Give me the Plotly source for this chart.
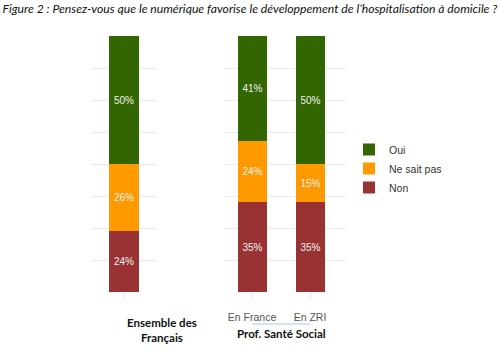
import plotly.graph_objects as go

title = "Figure 2 : Pensez-vous que le numérique favorise le développement de l’hospitalisation à domicile ?"
left_cat = ["Ensemble des Français"]
right_cat = ["En France", "En ZRI"]
series = ["Non", "Ne sait pas", "Oui"]
left_vals = {"Non": [24], "Ne sait pas": [26], "Oui": [50]}
right_vals = {"Non": [35, 35], "Ne sait pas": [24, 15], "Oui": [41, 50]}
colors = {"Oui": "#336600", "Ne sait pas": "#FF9900", "Non": "#993333"}
group_left = "Ensemble des<br>Français"
group_right = "Prof. Santé Social"

W, H = 500, 352
fig = go.Figure()
for s in series:
    fig.add_trace(go.Bar(x=left_cat, y=left_vals[s], name=s, marker_color=colors[s],
                         marker_line_width=0, width=0.44, xaxis="x", yaxis="y",
                         texttemplate="%{y}%", textposition="inside", insidetextanchor="middle",
                         textfont=dict(color="#f0f0f0", size=10, family="Arial"),
                         legendgroup=s, showlegend=True))
    fig.add_trace(go.Bar(x=right_cat, y=right_vals[s], name=s, marker_color=colors[s],
                         marker_line_width=0, width=0.5, xaxis="x2", yaxis="y2",
                         texttemplate="%{y}%", textposition="inside", insidetextanchor="middle",
                         textfont=dict(color="#f0f0f0", size=10, family="Arial"),
                         legendgroup=s, showlegend=False))

ytop, ybot = 1 - 36 / H, 1 - 292 / H
yax = dict(range=[0, 100], dtick=12.5, showticklabels=False, gridcolor="#ebebeb",
           gridwidth=1, zeroline=False, showline=False, ticks="")
xax = dict(ticks="outside", ticklen=5, tickcolor="#dddddd", showline=False,
           showgrid=False, zeroline=False, ticklabelstandoff=10,
           tickfont=dict(family="Arial", size=10.5, color="#555555"))

fig.update_layout(
    width=W, height=H, margin=dict(l=0, r=0, t=0, b=0),
    paper_bgcolor="white", plot_bgcolor="white", barmode="stack",
    title=dict(text="<i>" + title + "</i>", x=0.005, xanchor="left", y=1 - 9 / H, yanchor="middle",
               font=dict(family="Lato", size=12.2, color="#111111")),
    xaxis=dict(domain=[91 / W, 157 / W], range=[-0.5, 0.5], showticklabels=False, **xax),
    yaxis=dict(domain=[ybot, ytop], **yax),
    xaxis2=dict(domain=[225 / W, 346 / W], range=[-0.466, 1.62], anchor="y2", **xax),
    yaxis2=dict(domain=[ybot, ytop], anchor="x2", **yax),
    legend=dict(x=349 / W, y=1 - 135 / H, xanchor="left", yanchor="top", traceorder="reversed",
                font=dict(family="Arial", size=10.5, color="#333333"), tracegroupgap=0,
                bgcolor="rgba(0,0,0,0)"),
    bargap=0,
)
fig.add_annotation(text="<b>" + group_left + "</b>", xref="paper", yref="paper",
                   x=125 / W, y=1 - 330 / H, yanchor="middle", showarrow=False,
                   font=dict(family="Lato", size=11.5, color="#111111"), align="center")
fig.add_annotation(text="<b>" + group_right + "</b>", xref="paper", yref="paper",
                   x=281 / W, y=1 - 333 / H, yanchor="middle", showarrow=False,
                   font=dict(family="Lato", size=11.5, color="#111111"))
fig.add_shape(type="line", xref="x2", yref="paper", x0=0, x1=1, y0=1 - 324 / H, y1=1 - 324 / H,
              line=dict(color="#a8c8f0", width=1))
fig.write_html("out.html")
